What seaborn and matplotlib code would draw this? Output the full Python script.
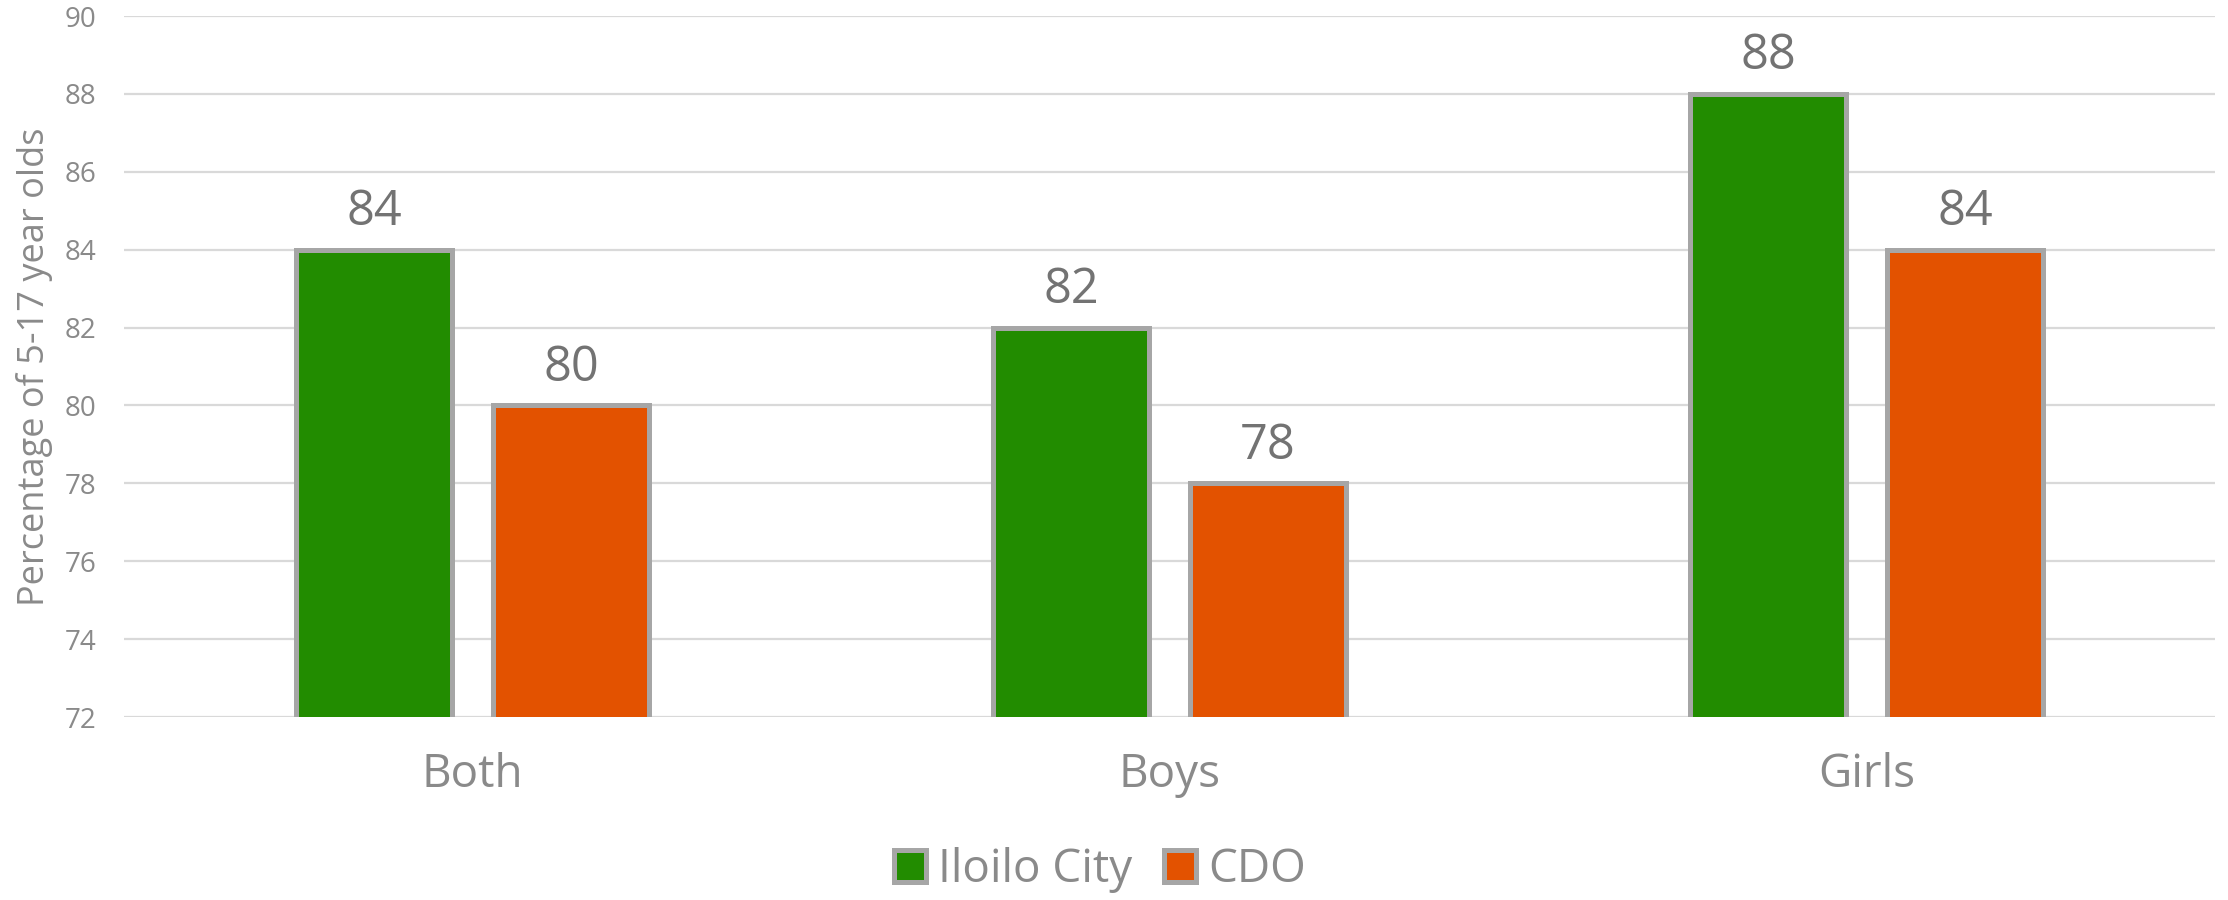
import pandas as pd
import numpy as np
import matplotlib
matplotlib.use('Agg')
import matplotlib.pyplot as plt
import seaborn as sns

# Data
categories = ['Both', 'Boys', 'Girls']
iloilo = [84, 82, 88]
cdo = [80, 78, 84]
series = ['Iloilo City', 'CDO']
yticks = [72, 74, 76, 78, 80, 82, 84, 86, 88, 90]

df = pd.DataFrame({
    'Group': categories * 2,
    'City': [series[0]] * 3 + [series[1]] * 3,
    'Value': iloilo + cdo,
})

sns.set_style('white')
plt.rcParams['font.family'] = ['Open Sans', 'DejaVu Sans']

fig = plt.figure(figsize=(22.28, 9), dpi=100)
ax = fig.add_axes([0.0557, 0.2033, 0.9385, 0.7789])

palette = {'Iloilo City': '#228c00', 'CDO': '#e35200'}
sns.barplot(data=df, x='Group', y='Value', hue='City', palette=palette,
            width=0.565, gap=0.21, edgecolor='#a6a6a6', linewidth=3.6,
            saturation=1, ax=ax, legend=True, zorder=3)

ax.set_ylim(72, 90)
ax.set_yticks(yticks)
ax.set_xlim(-0.5, 2.5)
ax.grid(axis='y', color='#d9d9d9', linewidth=1.6, zorder=0)
ax.set_axisbelow(True)
for s in ax.spines.values():
    s.set_visible(False)

ax.tick_params(axis='y', length=0, pad=20, labelsize=20, labelcolor='#8a8a8a')
ax.tick_params(axis='x', length=0, pad=25, labelsize=33, labelcolor='#8a8a8a')
ax.set_xlabel('')
ax.set_ylabel('Percentage of 5-17 year olds', fontsize=26, color='#8a8a8a')
ax.yaxis.set_label_coords(-0.034, 0.5)

# Data labels
for c in ax.containers:
    ax.bar_label(c, fmt='%d', padding=9, fontsize=35, color='#737373')

# Legend
handles, labels = ax.get_legend_handles_labels()
ax.legend(handles, labels, loc='center', bbox_to_anchor=(0.4937, 0.033),
          bbox_transform=fig.transFigure, ncol=2, frameon=False,
          fontsize=33, labelcolor='#8a8a8a', handlelength=0.7, handleheight=0.7,
          handletextpad=0.25, columnspacing=0.7, borderpad=0)

plt.savefig('out.png', dpi=100)
